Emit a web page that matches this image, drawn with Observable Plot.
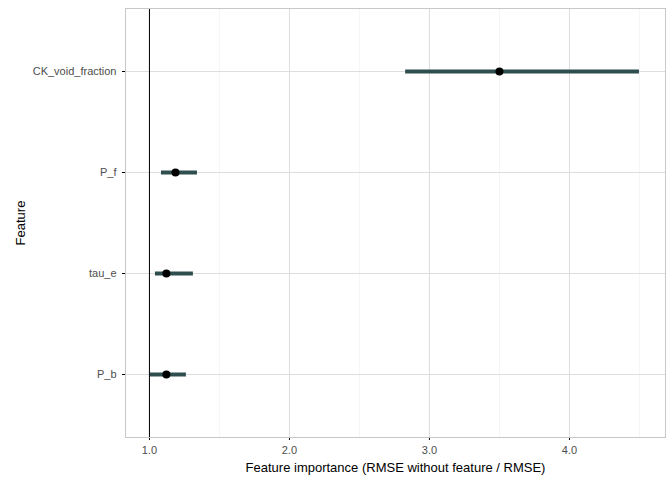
<!DOCTYPE html>
<html><head>
<script src="https://cdn.jsdelivr.net/npm/d3@7"></script>
<script src="https://cdn.jsdelivr.net/npm/@observablehq/plot@0.6"></script>
<style>body{margin:0;background:#fff}</style>
</head><body><div id="c"></div>
<script>
const features = ["CK_void_fraction","P_f","tau_e","P_b"];
const importance = [3.5, 1.186, 1.121, 1.121];
const lower = [2.83, 1.086, 1.043, 1.007];
const upper = [4.5, 1.343, 1.314, 1.264];
const data = features.map((f,i)=>({f, v:importance[i], lo:lower[i], hi:upper[i]}));
const majors = [1,2,3,4];
const minors = [1.5,2.5,3.5,4.5];
const chart = Plot.plot({
  width:672, height:480,
  marginLeft:125, marginRight:7, marginTop:8, marginBottom:43,
  style:{fontFamily:"Liberation Sans, Arial, sans-serif", fontSize:"11px"},
  x:{domain:[0.829,4.686], ticks:majors, tickSize:3, label:"Feature importance (RMSE without feature / RMSE)", labelAnchor:"center", labelArrow:"none", labelOffset:34},
  y:{type:"point", domain:features, padding:0.61, tickSize:3, label:"Feature", labelAnchor:"center", labelArrow:"none", labelOffset:110},
  marks:[
    Plot.ruleX(minors,{stroke:"#ebebeb", strokeWidth:0.5}),
    Plot.ruleX(majors,{stroke:"#dedede", strokeWidth:1}),
    Plot.ruleY(features,{y:d=>d, stroke:"#dedede", strokeWidth:1}),
    Plot.ruleX([1],{stroke:"black", strokeWidth:1}),
    Plot.ruleY(data,{y:"f", x1:"lo", x2:"hi", stroke:"#2f4f4f", strokeWidth:4}),
    Plot.dot(data,{x:"v", y:"f", r:4, fill:"black"}),
    Plot.frame({stroke:"#c8c8c8"})
  ]
});
d3.select(chart).selectAll("[aria-label$='tick label'] text, g[aria-label='x-axis tick label'] text, g[aria-label='y-axis tick label'] text").attr("fill","#4d4d4d");
d3.select(chart).selectAll("g[aria-label$='axis label'] text").style("font-size","13px");
document.getElementById("c").appendChild(chart);
</script></body></html>
